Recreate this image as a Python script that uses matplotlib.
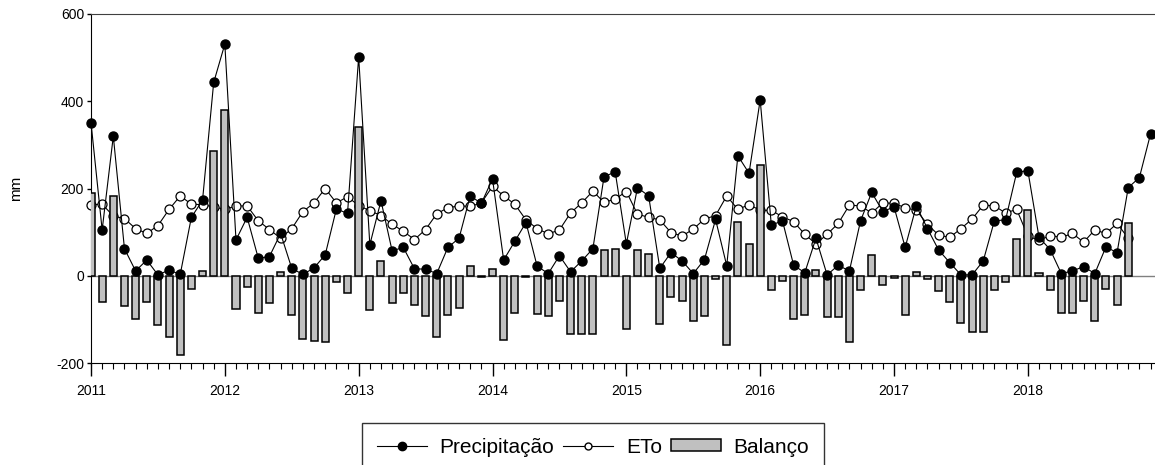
import matplotlib
matplotlib.use('Agg')
import matplotlib.pyplot as plt
import numpy as np
from matplotlib.patches import Patch
from matplotlib.lines import Line2D

plt.rcParams['font.family'] = ['Liberation Sans', 'DejaVu Sans']

YEARS = ['2011', '2012', '2013', '2014', '2015', '2016', '2017', '2018']

# precipitacao mensal (mm), jan/2011 - dez/2018
precip = [351, 105, 320, 62, 11, 36, 2, 13, 3, 134, 173, 443,
          531, 82, 134, 40, 44, 97, 17, 3, 18, 48, 153, 143,
          502, 71, 172, 57, 65, 16, 15, 5, 65, 86, 183, 166,
          222, 36, 79, 122, 22, 5, 46, 9, 34, 62, 227, 238,
          73, 202, 183, 17, 53, 34, 5, 37, 129, 23, 275, 235,
          403, 116, 126, 24, 7, 86, 2, 24, 11, 126, 191, 147,
          158, 65, 160, 108, 59, 30, 2, 2, 34, 126, 128, 237,
          241, 88, 60, 5, 11, 21, 5, 66, 53, 202, 225, 325]

# ETo mensal (mm), jan/2011 - out/2018
eto = [163, 164, 137, 131, 108, 97, 115, 152, 183, 164, 163, 158,
       152, 160, 160, 126, 106, 86, 108, 147, 167, 200, 167, 181,
       161, 149, 138, 118, 102, 83, 106, 142, 156, 160, 159, 167,
       205, 183, 164, 128, 108, 96, 105, 144, 167, 194, 168, 176,
       193, 141, 134, 128, 99, 91, 107, 130, 138, 183, 152, 163,
       150, 150, 135, 124, 95, 73, 95, 120, 162, 160, 144, 167,
       166, 156, 150, 118, 93, 88, 108, 130, 162, 160, 144, 152,
       91, 81, 92, 88, 97, 77, 105, 97, 120, 86]

# balanco hidrico (mm), jan/2011 - out/2018
balanco = [189, -60, 183, -70, -99, -61, -114, -140, -182, -31, 11, 285,
           380, -77, -25, -86, -63, 9, -91, -146, -150, -153, -14, -40,
           341, -79, 34, -62, -39, -68, -92, -140, -91, -74, 22, -2,
           16, -147, -85, -4, -88, -92, -57, -133, -133, -133, 59, 62,
           -121, 60, 49, -111, -48, -59, -103, -92, -8, -159, 123, 72,
           253, -33, -11, -100, -89, 13, -95, -95, -152, -33, 47, -22,
           -5, -90, 8, -8, -35, -60, -109, -129, -129, -33, -15, 85,
           150, 6, -33, -86, -86, -57, -104, -30, -66, 120]

W, H = 1155, 465
fig = plt.figure(figsize=(W / 100, H / 100), dpi=100)
ax = fig.add_axes([91 / W, 1 - 363 / H, (W - 91) / W, (363 - 14) / H])

ax.axhline(0, color='#808080', lw=1, zorder=1)
ax.plot(np.arange(len(eto)), eto, '-o', color='black', mfc='white', mec='black',
        ms=6.5, mew=0.9, lw=0.8, zorder=2, clip_on=False)
ax.bar(np.arange(len(balanco)), balanco, width=0.63, color='#c0c0c0',
       edgecolor='black', linewidth=1.1, zorder=3)
ax.plot(np.arange(len(precip)), precip, '-o', color='black', ms=6.5, lw=0.8,
        zorder=4, clip_on=False)

ax.set_xlim(0, 95.4)
ax.set_ylim(-200, 600)
ax.set_yticks([-200, 0, 200, 400, 600])
ax.set_yticklabels(['-200', '0', '200', '400', '600'], fontsize=10)
ax.set_xticks(np.arange(0, 96, 12))
ax.set_xticklabels(YEARS, fontsize=10)
ax.set_xticks(np.arange(96), minor=True)
ax.tick_params(axis='x', which='major', direction='out', length=9, width=1, pad=6)
ax.tick_params(axis='x', which='minor', direction='out', length=4.5, width=0.8)
ax.tick_params(axis='y', which='major', direction='out', length=3, width=1, pad=2)

ax.spines['right'].set_visible(False)
ax.spines['top'].set_color('#404040')
ax.set_ylabel('mm', fontsize=11)
ax.yaxis.set_label_coords(-0.064, 0.5)

handles = [
    Line2D([], [], color='black', marker='o', ms=6, lw=0.8),
    Line2D([], [], color='black', marker='o', mfc='white', ms=5, lw=0.8),
    Patch(facecolor='#c0c0c0', edgecolor='black', linewidth=1.1),
]
leg = fig.legend(handles, ['Precipitação', 'ETo', 'Balanço'], ncol=3,
                 loc='upper center', bbox_to_anchor=(593 / W, 1 - 423 / H),
                 fontsize=15, frameon=True, fancybox=False, edgecolor='black',
                 handlelength=2.4, handletextpad=0.6, columnspacing=0.45,
                 borderpad=0.7, handleheight=0.5, borderaxespad=0)
leg.get_frame().set_linewidth(1)

fig.savefig('out.png', dpi=100)
